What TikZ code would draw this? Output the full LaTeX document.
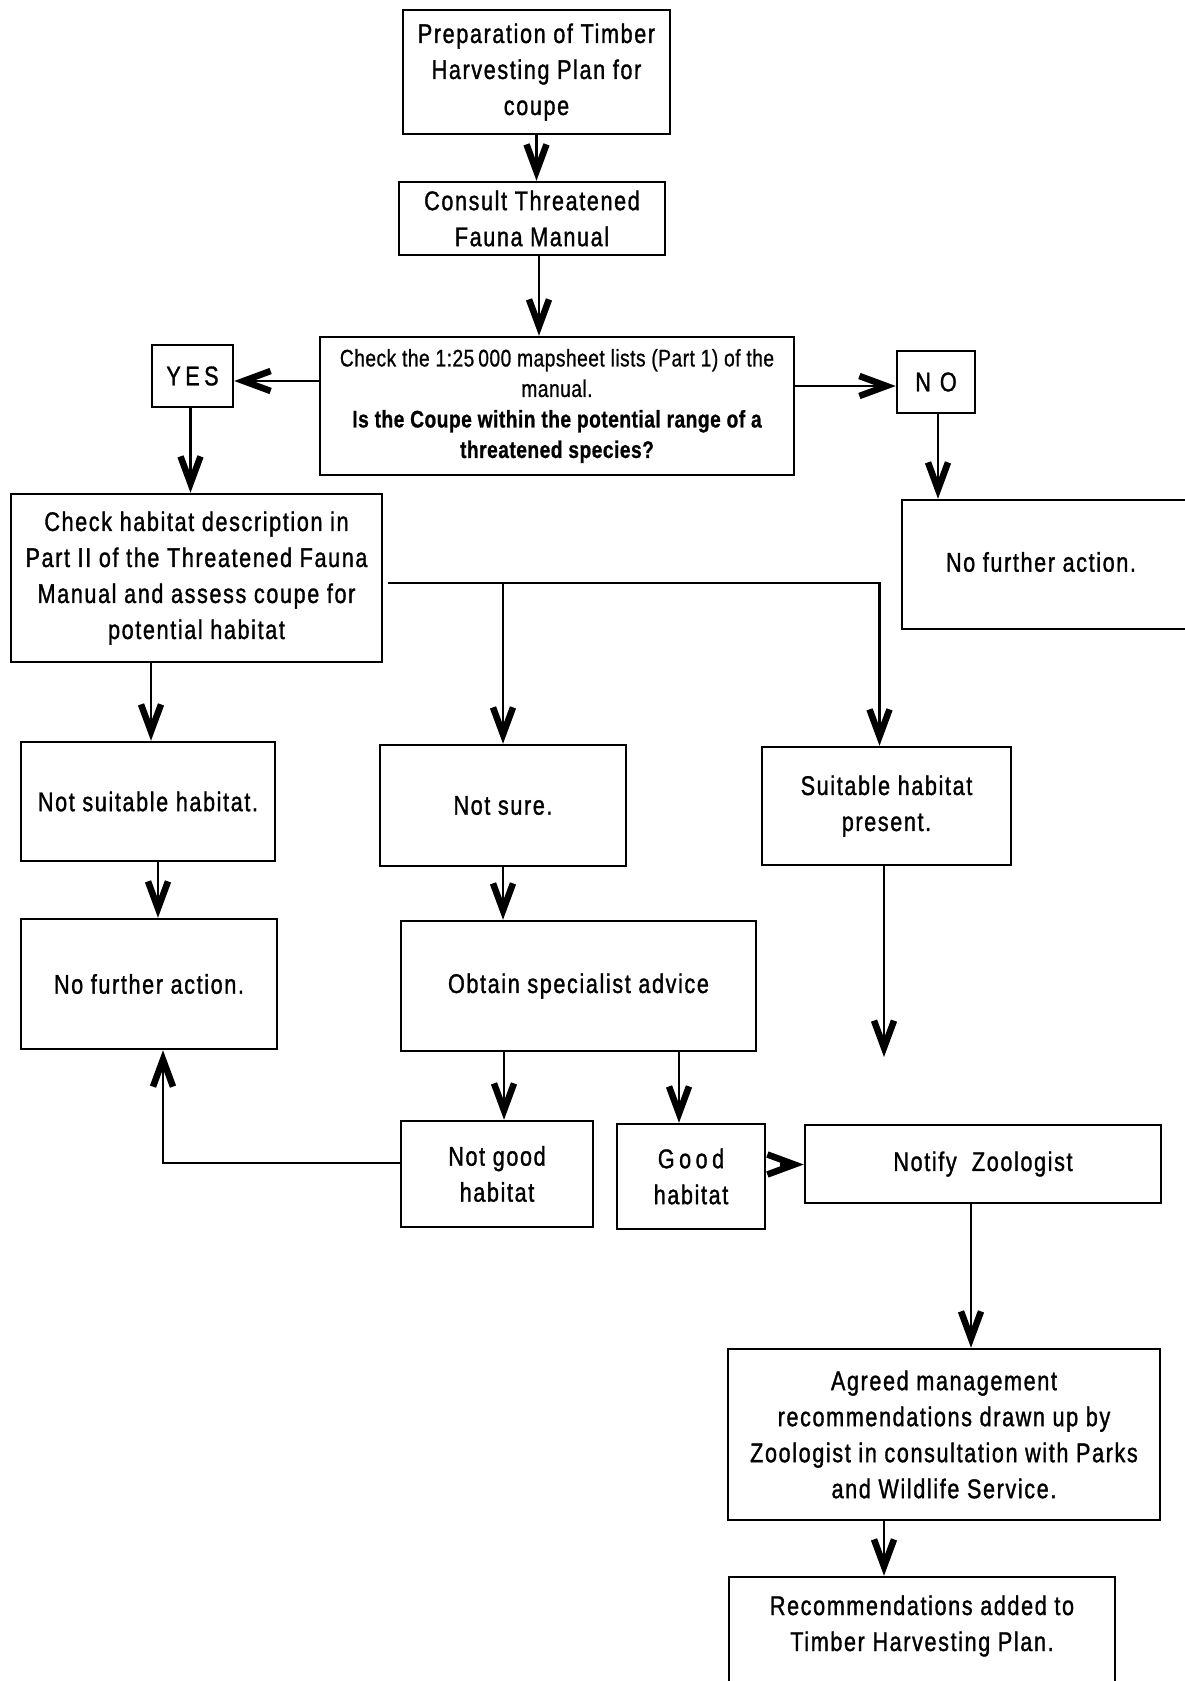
\documentclass[tikz,border=0pt]{standalone}
\usepackage{fontspec}
\setmainfont[FakeStretch=0.8,LetterSpace=6,FakeBold=1.2]{Liberation Sans}
\newfontfamily\narrowfont[FakeStretch=0.8,LetterSpace=2,FakeBold=0.8]{Liberation Sans}
\usetikzlibrary{arrows.meta}
\tikzset{
  box/.style={draw, line width=2.5pt, inner sep=0pt, align=center,
    font=\fontsize{27}{36}\selectfont},
  plain/.style={inner sep=0pt, align=center, font=\fontsize{27}{36}\selectfont},
  conn/.style={line width=2.4pt, -{Straight Barb[length=27pt,width=20pt,line width=6.5pt]}},
}
\begin{document}
\begin{tikzpicture}[x=1pt,y=-1pt]
\clip (0,0) rectangle (1185,1681);
\fill[white] (0,0) rectangle (1185,1681);
% boxes
\node[box, minimum width=267pt, minimum height=124pt] (b1) at (536.5,72) {Preparation of Timber\\Harvesting Plan for\\coupe};
\node[box, minimum width=266pt, minimum height=73pt] (b2) at (532,218.5) {Consult Threatened\\Fauna Manual};
\node[box, minimum width=474pt, minimum height=138pt, font=\narrowfont\fontsize{24}{30.5}\selectfont] (b3) at (557,406)
  {Check the 1:25\,000 mapsheet lists (Part 1) of the\\manual.\\\bfseries Is the Coupe within the potential range of a\\\bfseries threatened species?};
\node[box, minimum width=81pt, minimum height=62pt] (yes) at (192.5,376) {Y\,E\,S};
\node[box, minimum width=78pt, minimum height=62pt] (no) at (936,382) {N\,\,O};
\node[box, minimum width=298pt, minimum height=129pt] (nfa1) at (1051,564.5) {};
\node[plain] (nfa1t) at (1041,562) {No further action.};
\node[box, minimum width=371pt, minimum height=168pt] (hab) at (196.5,578) {Check habitat description in\\Part II of the Threatened Fauna\\Manual and assess coupe for\\potential habitat};
\node[box, minimum width=254pt, minimum height=119pt] (nsuit) at (148,801.5) {Not suitable habitat.};
\node[box, minimum width=246pt, minimum height=121pt] (nsure) at (503,805.5) {Not sure.};
\node[box, minimum width=249pt, minimum height=118pt] (suit) at (886.5,806) {Suitable habitat\\present.};
\node[box, minimum width=256pt, minimum height=130pt] (nfa2) at (149,984) {No further action.};
\node[box, minimum width=355pt, minimum height=130pt] (obt) at (578.5,986) {Obtain specialist advice};
\node[box, minimum width=192pt, minimum height=106pt] (ngood) at (497,1174) {Not good\\habitat};
\node[box, minimum width=148pt, minimum height=105pt] (good) at (691,1176.5) {G\,o\,o\,d\\habitat};
\node[box, minimum width=356pt, minimum height=78pt] (notify) at (983,1164) {Notify\ \ Zoologist};
\node[box, minimum width=432pt, minimum height=171pt] (agreed) at (944,1434.5) {Agreed management\\recommendations drawn up by\\Zoologist in consultation with Parks\\and Wildlife Service.};
\node[box, minimum width=386pt, minimum height=143pt] (rec) at (922,1648.5) {};
\node[plain] (rect) at (922,1626) {Recommendations added to\\Timber Harvesting Plan.};
\coordinate (sfree) at (884,1057);
\coordinate (branch) at (388,583);
% connectors
\draw[conn] (b1.south) -- (b1.south |- b2.north);
\draw[conn] ([xshift=7pt]b2.south) -- ([xshift=7pt]b2.south |- b3.north);
\draw[conn] ([yshift=-5pt]yes.east -| b3.west) -- ([yshift=-5pt]yes.east);
\draw[conn] ([yshift=-4pt]no.west -| b3.east) -- ([yshift=-4pt]no.west);
\draw[conn] ([xshift=-2pt]yes.south) -- ([xshift=-2pt]yes.south |- hab.north);
\draw[conn] ([xshift=2pt]no.south) -- ([xshift=2pt]no.south |- nfa1.north);
\draw[conn] (branch) -| ([xshift=-7pt]suit.north);
\draw[conn] (nsure.north |- branch) -- (nsure.north);
\draw[conn] ([xshift=3pt]nsuit.north |- hab.south) -- ([xshift=3pt]nsuit.north);
\draw[conn] ([xshift=10pt]nsuit.south) -- ([xshift=10pt]nsuit.south |- nfa2.north);
\draw[conn] (nsure.south) -- (nsure.south |- obt.north);
\draw[conn] (suit.south -| sfree) -- (sfree);
\draw[conn] ([xshift=7pt]ngood.north |- obt.south) -- ([xshift=7pt]ngood.north);
\draw[conn] ([xshift=-12pt]good.north |- obt.south) -- ([xshift=-12pt]good.north);
\draw[conn] ([yshift=11pt]ngood.west) -| ([xshift=14pt]nfa2.south);
\draw[conn, shorten <=14pt] ([yshift=12pt]good.east) -- ([yshift=12pt]good.east -| notify.west);
\draw[conn] ([xshift=-12pt]notify.south) -- ([xshift=-12pt]notify.south |- agreed.north);
\draw[conn] ([xshift=-38pt]rec.north |- agreed.south) -- ([xshift=-38pt]rec.north);
\end{tikzpicture}
\end{document}
